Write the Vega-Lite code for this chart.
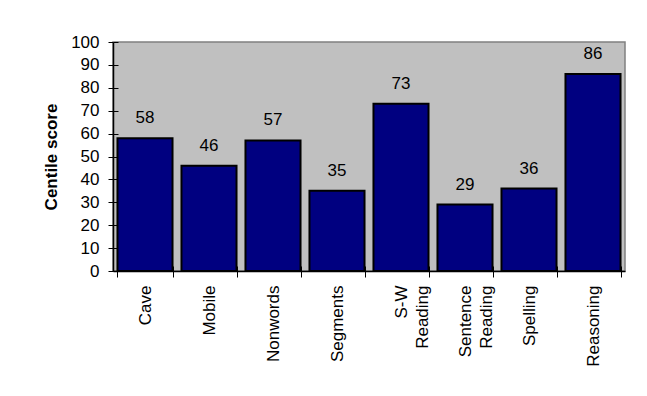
{
  "$schema": "https://vega.github.io/schema/vega-lite/v6.json",
  "autosize": "none",
  "width": 512,
  "height": 229,
  "padding": {"left": 113, "top": 42, "right": 22, "bottom": 125},
  "background": "white",
  "config": {
    "font": "Liberation Sans",
    "view": {"fill": "#C0C0C0", "stroke": "#808080", "strokeWidth": 1.5}
  },
  "data": {
    "values": [
      {"label": "Cave", "score": 58},
      {"label": "Mobile", "score": 46},
      {"label": "Nonwords", "score": 57},
      {"label": "Segments", "score": 35},
      {"label": "S-W|Reading", "score": 73},
      {"label": "Sentence|Reading", "score": 29},
      {"label": "Spelling", "score": 36},
      {"label": "Reasoning", "score": 86}
    ]
  },
  "resolve": {"axis": {"x": "independent", "y": "independent"}},
  "layer": [
    {
      "mark": {"type": "bar", "color": "#000080", "stroke": "black", "strokeWidth": 2},
      "encoding": {
        "x": {
          "field": "label", "type": "nominal", "sort": null,
          "scale": {"paddingInner": 0.14, "paddingOuter": 0.07},
          "axis": {
            "title": null, "labelAngle": -90, "labelFontSize": 17, "labelColor": "black",
            "labelExpr": "isValid(datum.value) ? split(datum.value, '|') : ''", "labelLineHeight": 21,
            "labelPadding": 8, "tickBand": "extent", "tickSize": 6, "tickColor": "black",
            "domainColor": "black", "domainWidth": 1.5, "labelAlign": "right", "labelBaseline": "middle"
          }
        },
        "y": {
          "field": "score", "type": "quantitative",
          "scale": {"domain": [0, 100], "nice": false},
          "axis": {
            "title": "Centile score", "titleFontSize": 17, "titleFontWeight": "bold", "titleColor": "black",
            "values": [0,10,20,30,40,50,60,70,80,90,100], "grid": false,
            "labelFontSize": 17, "labelColor": "black", "labelPadding": 9,
            "tickSize": 5, "tickColor": "black", "domainColor": "black", "domainWidth": 1.5,
            "titlePadding": 10
          }
        }
      }
    },
    {
      "mark": {"type": "text", "fontSize": 17, "baseline": "alphabetic", "dy": -15, "color": "black"},
      "encoding": {
        "x": {
          "field": "label", "type": "nominal", "sort": null,
          "axis": {"orient": "bottom", "title": null, "labels": false, "domain": false,
                   "tickBand": "extent", "tickSize": -5, "tickColor": "black"}
        },
        "y": {
          "field": "score", "type": "quantitative",
          "axis": {"orient": "left", "title": null, "labels": false, "domain": false, "grid": false,
                   "values": [0,10,20,30,40,50,60,70,80,90,100], "tickSize": -5, "tickColor": "black"}
        },
        "text": {"field": "score", "type": "quantitative"}
      }
    }
  ]
}
